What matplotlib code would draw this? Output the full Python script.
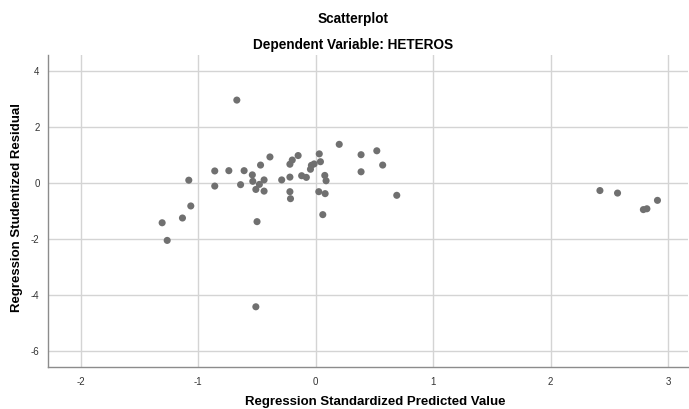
import matplotlib
matplotlib.use("Agg")
import matplotlib.pyplot as plt

plt.rcParams['font.family'] = ['Liberation Sans', 'DejaVu Sans']

pred = [-0.672, -1.308, -1.265, -1.135, -1.064, -1.081, -0.86, -0.86, -0.74, -0.61,
        -0.64, -0.54, -0.536, -0.47, -0.39, -0.48, -0.51, -0.44, -0.44, -0.50,
        -0.29, -0.22, -0.22, -0.215, -0.22, -0.20, -0.15, -0.12, -0.08, -0.045,
        -0.037, -0.014, 0.03, 0.04, 0.077, 0.088, 0.026, 0.08, 0.06,
        0.20, 0.386, 0.52, 0.57, 0.386, 0.69,
        2.42, 2.57, 2.79, 2.82, 2.91,
        -0.51]
resid = [2.96, -1.42, -2.05, -1.25, -0.82, 0.10, 0.43, -0.11, 0.44, 0.44,
         -0.06, 0.29, 0.06, 0.64, 0.93, -0.05, -0.23, 0.11, -0.29, -1.38,
         0.11, 0.21, -0.31, -0.56, 0.67, 0.82, 0.98, 0.26, 0.20, 0.49,
         0.63, 0.68, 1.04, 0.76, 0.27, 0.08, -0.31, -0.38, -1.13,
         1.38, 1.01, 1.15, 0.64, 0.40, -0.44,
         -0.27, -0.36, -0.95, -0.92, -0.62,
         -4.42]

xticks = [-2, -1, 0, 1, 2, 3]
yticks = [-6, -4, -2, 0, 2, 4]

fig = plt.figure(figsize=(6.89, 4.09), dpi=100)
ax = fig.add_axes([48/689, 1-367/409, 640/689, (367-55)/409])

ax.scatter(pred, resid, s=26, color='#707070', edgecolors='none', zorder=3)

ax.set_xlim(-2.28, 3.17)
ax.set_ylim(-6.57, 4.57)
ax.set_xticks(xticks)
ax.set_yticks(yticks)
ax.set_xticklabels([str(t) for t in xticks])
ax.set_yticklabels([str(t) for t in yticks])
ax.tick_params(length=0, labelsize=7, colors='#333333')
ax.tick_params(axis='x', pad=7)
ax.tick_params(axis='y', pad=6)
ax.grid(True, color='#d4d4d4', linewidth=1.0)
ax.set_axisbelow(True)
for s in ['top', 'right']:
    ax.spines[s].set_visible(False)
for s in ['left', 'bottom']:
    ax.spines[s].set_color('#8c8c8c')
    ax.spines[s].set_linewidth(1.0)

fig.text(375/689, 1-402/409, 'Regression Standardized Predicted Value',
         ha='center', va='center', fontsize=9.5, fontweight='bold')
fig.text(17/689, 1-207/409, 'Regression Studentized Residual', rotation=90,
         ha='center', va='center', fontsize=9.5, fontweight='bold')

fig.text(353/689, 1-19/409, 'Scatterplot', ha='center', va='center', fontsize=9.8, fontweight='bold')
fig.text(353/689, 1-45/409, 'Dependent Variable: HETEROS', ha='center', va='center', fontsize=9.8, fontweight='bold')

fig.savefig('out.png', dpi=100)
